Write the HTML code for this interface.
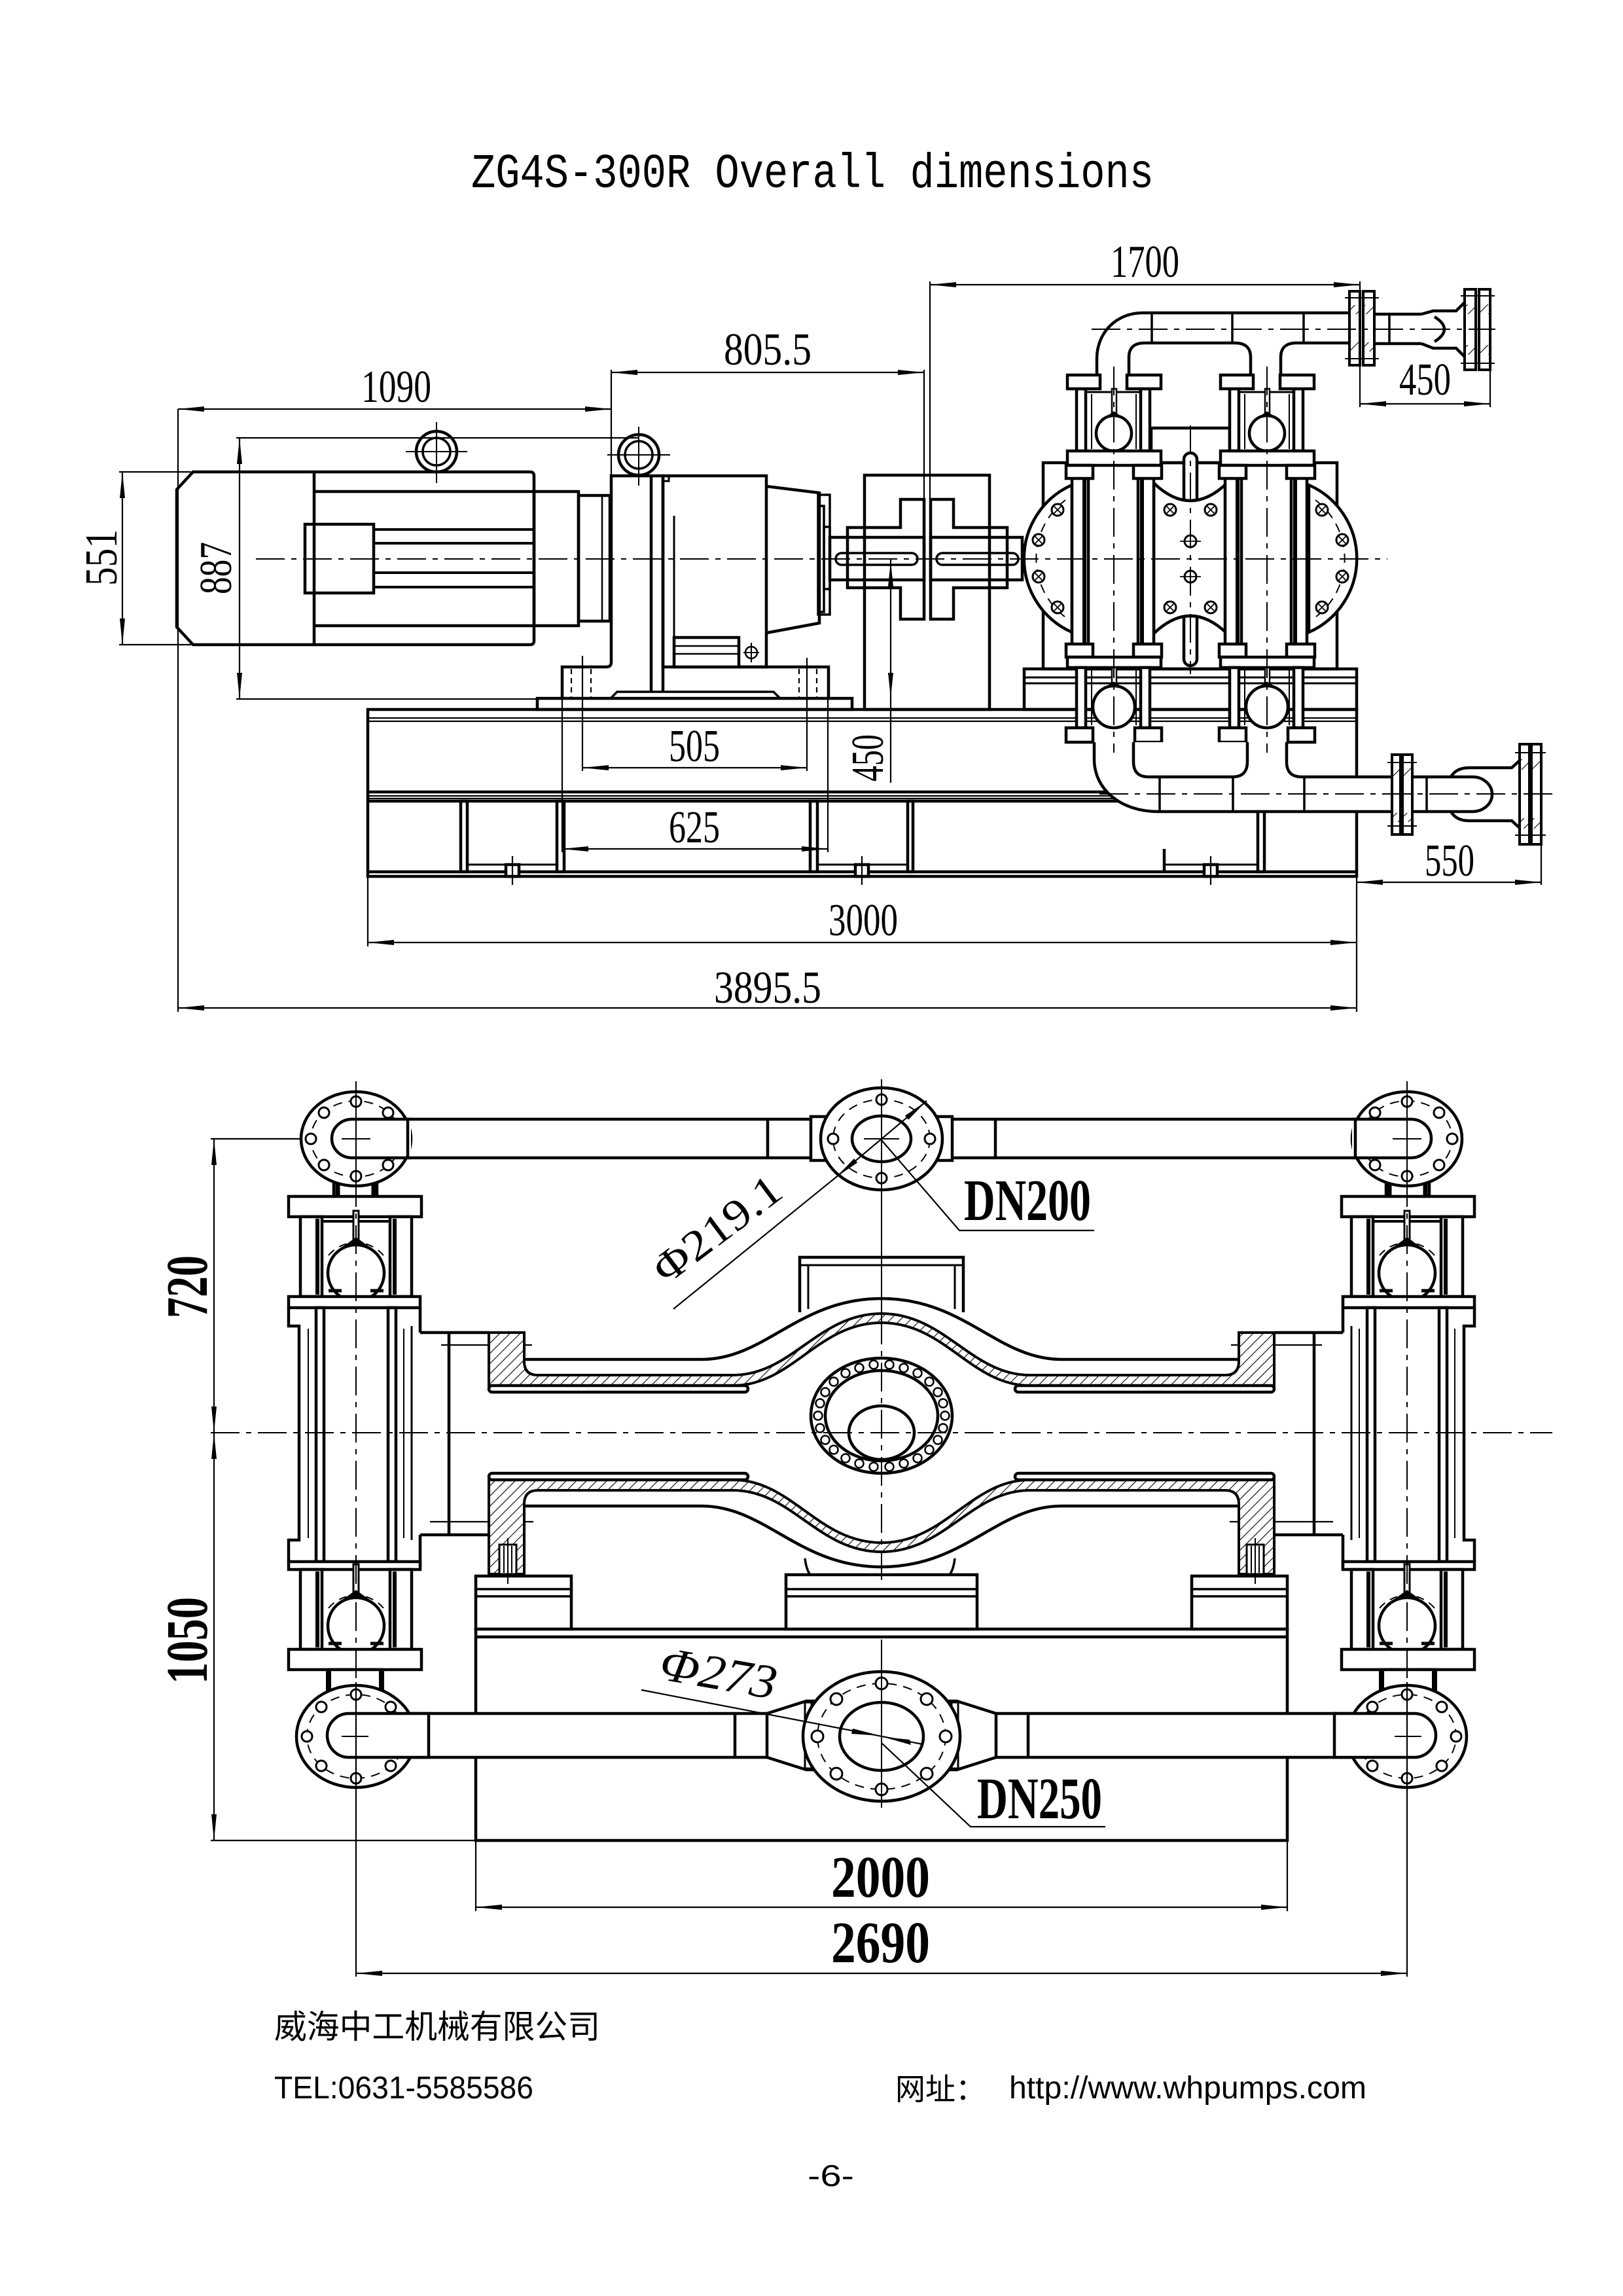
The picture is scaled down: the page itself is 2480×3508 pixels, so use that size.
<!DOCTYPE html>
<html><head><meta charset="utf-8">
<style>
html,body{margin:0;padding:0;background:#fff}
svg{display:block}
</style></head><body>
<svg xmlns="http://www.w3.org/2000/svg" width="2480" height="3508" viewBox="0 0 2480 3508">
<defs>
<marker id="a" markerUnits="userSpaceOnUse" markerWidth="44" markerHeight="14" refX="40" refY="7" orient="auto-start-reverse"><path d="M0,3 L40,7 L0,11 z" fill="#000"/></marker>
<pattern id="h" patternUnits="userSpaceOnUse" width="11" height="11" patternTransform="rotate(45)"><rect width="11" height="11" fill="#fff"/><line x1="0" y1="0" x2="0" y2="11" stroke="#000" stroke-width="2.2"/></pattern>
</defs>
<rect width="2480" height="3508" fill="#fff"/>

<!-- TITLE -->
<text x="720" y="286" font-family="Liberation Mono, monospace" font-size="74" textLength="1043" lengthAdjust="spacingAndGlyphs">ZG4S-300R Overall dimensions</text>

<!-- ================= TOP VIEW ================= -->
<g fill="none" stroke="#000" stroke-width="4.5">
<rect x="562" y="1084" width="1511" height="255"/>
<path d="M562,1210 H2073 M562,1224 H2073 M562,1332 H2073"/>
<rect x="704" y="1224" width="10" height="108"/>
<rect x="851" y="1224" width="11" height="108"/>
<rect x="1238" y="1224" width="11" height="108"/>
<rect x="1387" y="1224" width="8" height="108"/>
<rect x="1922" y="1224" width="10" height="108"/>
<path d="M1779,1297 V1332"/>
<path d="M714,1321 H851 M1249,1321 H1387 M1779,1321 H1922" stroke-width="3"/>
<rect x="773" y="1321" width="20" height="18" fill="#fff"/>
<rect x="1307" y="1321" width="20" height="18" fill="#fff"/>
<rect x="1840" y="1321" width="20" height="18" fill="#fff"/>
</g>
<g fill="none" stroke="#000" stroke-width="2.2">
<path d="M562,1097 H2073 M562,1102 H2073 M562,1216 H2073 M562,1220 H2073"/>
<path d="M783,1308 V1352 M1317,1308 V1352 M1850,1308 V1352"/>
</g>

<g fill="none" stroke="#000" stroke-width="4.5">
<rect x="821" y="1067" width="481" height="17"/>
<path d="M859,1067 V1019 H926 Q934,1019 934,1012"/>
<path d="M1129,1019 H1266 V1067"/>
<path d="M933,1067 L943,1057 H1182 L1192,1067" stroke-width="3.5"/>
<path d="M934,1012 V727 H1013 V1057"/>
<path d="M995,727 V1057"/>
<rect x="1013" y="727" width="158" height="292"/>
<path d="M1013,727 V735 H1022 V727" stroke-width="3"/>
<path d="M1171,743 L1252,753 V952 L1171,967"/>
<rect x="1252" y="773" width="7" height="162" stroke-width="3.5"/>
<rect x="1259" y="805" width="9" height="95" stroke-width="3.5"/>
<path d="M1030,788 V1017" stroke-width="3"/>
<rect x="1030" y="974" width="99" height="45" fill="#fff"/>
<path d="M1030,987 H1129 M1030,999 H1129" stroke-width="2.5"/>
<circle cx="1148" cy="997" r="9" stroke-width="2.5"/>
<path d="M1148,982 V1012 M1136,997 H1160" stroke-width="2"/>
</g>
<g fill="none" stroke="#000" stroke-width="2.2" stroke-dasharray="8 6">
<path d="M873,1022 V1066 M903,1022 V1066 M1221,1022 V1066 M1248,1022 V1066"/>
</g>

<g fill="none" stroke="#000" stroke-width="4.5">
<path d="M295,721 H810 Q816,721 816,727 V979 Q816,985 810,985 H295 L270,958 V748 Z"/>
<path d="M480,721 V985"/>
<path d="M480,751 H816 M480,956 H816"/>
<rect x="816" y="751" width="68" height="205"/>
<rect x="884" y="757" width="48" height="192"/>
<path d="M920,757 V949" stroke-width="2.5"/>
<rect x="466" y="801" width="105" height="105"/>
<path d="M571,809 H816 M571,830 H816 M571,875 H816 M571,897 H816" stroke-width="4"/>
<circle cx="667" cy="690" r="31"/><circle cx="667" cy="690" r="21" stroke-width="3.5"/>
<circle cx="976" cy="695" r="31"/><circle cx="976" cy="695" r="21" stroke-width="3.5"/>
</g>
<g fill="none" stroke="#000" stroke-width="2">
<path d="M620,690 H714 M667,645 V738 M928,695 H1024 M976,652 V742"/>
</g>

<g fill="none" stroke="#000" stroke-width="4.5">
<rect x="1321" y="726" width="191" height="358"/>
<path d="M1295,806 H1376 V763 H1412 V946 H1376 V898 H1295 Z"/>
<path d="M1422,763 H1457 V806 H1539 V898 H1457 V946 H1422 Z"/>
<rect x="1268" y="821" width="144" height="65"/>
<rect x="1422" y="821" width="140" height="65"/>
<rect x="1277" y="845" width="125" height="18" rx="9" stroke-width="3.5"/>
<rect x="1431" y="845" width="125" height="18" rx="9" stroke-width="3.5"/>
<rect x="1250" y="756" width="18" height="183" stroke-width="3.5"/>
</g>

<g fill="none" stroke="#000" stroke-width="4.5">
<rect x="1594" y="707" width="449" height="315"/>
<rect x="1759" y="654" width="120" height="53"/>
<rect x="1565" y="1022" width="508" height="62"/>
<path d="M1565,1035 H2073 M1565,1044 H2073" stroke-width="3"/>
</g>
<g fill="#fff" stroke="#000" stroke-width="4.5">
<rect x="1809" y="692" width="20" height="325" rx="10"/>
<path d="M1763,738 Q1819,792 1875,738 V968 Q1819,914 1763,968 Z"/>
<path d="M1638,741 A123,123 0 0 0 1638,966 Z"/>
<path d="M2000,741 A123,123 0 0 1 2000,966 Z"/>
</g>
<g fill="none" stroke="#000" stroke-width="2" stroke-dasharray="14 10">
<path d="M1628,764 A112,112 0 0 0 1628,943"/>
<path d="M2010,764 A112,112 0 0 1 2010,943"/>
</g>
<g fill="#fff" stroke="#000" stroke-width="3">
<circle cx="1616" cy="779" r="9"/><circle cx="1587" cy="825" r="9"/><circle cx="1587" cy="881" r="9"/><circle cx="1616" cy="928" r="9"/>
<circle cx="2020" cy="779" r="9"/><circle cx="2051" cy="825" r="9"/><circle cx="2051" cy="881" r="9"/><circle cx="2020" cy="928" r="9"/>
<circle cx="1788" cy="779" r="9"/><circle cx="1850" cy="779" r="9"/><circle cx="1819" cy="827" r="9"/><circle cx="1819" cy="881" r="9"/><circle cx="1788" cy="928" r="9"/><circle cx="1850" cy="928" r="9"/>
</g>
<g fill="none" stroke="#000" stroke-width="1.8">
<path d="M1610,773 L1622,785 M1622,773 L1610,785 M1581,819 L1593,831 M1593,819 L1581,831 M1581,875 L1593,887 M1593,875 L1581,887 M1610,922 L1622,934 M1622,922 L1610,934"/>
<path d="M2014,773 L2026,785 M2026,773 L2014,785 M2045,819 L2057,831 M2057,819 L2045,831 M2045,875 L2057,887 M2057,875 L2045,887 M2014,922 L2026,934 M2026,922 L2014,934"/>
<path d="M1782,773 L1794,785 M1794,773 L1782,785 M1844,773 L1856,785 M1856,773 L1844,785 M1782,922 L1794,934 M1794,922 L1782,934 M1844,922 L1856,934 M1856,922 L1844,934"/>
<path d="M1803,827 H1835 M1803,881 H1835"/>
</g>

<g id="col" fill="#fff" stroke="#000" stroke-width="4.5">
<rect x="1645" y="594" width="14" height="95"/>
<rect x="1743" y="594" width="14" height="95"/>
<path d="M1659,599 H1743" fill="none" stroke-width="3"/>
<path d="M1668,602 V686 M1736,602 V686" fill="none" stroke-width="2"/>
<rect x="1699" y="594" width="7" height="42" stroke-width="2.5"/>
<path d="M1688,641 L1702,631 L1716,641 Z" fill="#000"/>
<circle cx="1702" cy="662" r="27"/>
<rect x="1631" y="689" width="143" height="22"/>
<rect x="1638" y="711" width="25" height="293"/>
<rect x="1739" y="711" width="24" height="293"/>
<path d="M1657,715 V1000 M1745,715 V1000" fill="none" stroke-width="6"/>
<rect x="1629" y="711" width="41" height="20"/>
<rect x="1732" y="711" width="43" height="20"/>
<rect x="1629" y="984" width="41" height="20"/>
<rect x="1732" y="984" width="43" height="20"/>
<rect x="1631" y="1004" width="143" height="16"/>
<rect x="1645" y="1020" width="14" height="92"/>
<rect x="1743" y="1020" width="14" height="92"/>
<path d="M1668,1024 V1108 M1736,1024 V1108" fill="none" stroke-width="2"/>
<rect x="1699" y="1020" width="7" height="26" stroke-width="2.5"/>
<path d="M1686,1054 L1702,1044 L1718,1054 Z" fill="#000"/>
<circle cx="1702" cy="1080" r="32"/>
<rect x="1629" y="1112" width="41" height="22"/>
<rect x="1734" y="1112" width="41" height="22"/>
</g>
<use href="#col" transform="translate(234,0)"/>

<g fill="none" stroke="#000" stroke-width="4.5">
<path d="M1676,573 V548 C1676,508 1706,478 1746,478 H2062"/>
<path d="M1725,573 V546 Q1725,524 1749,524 H1887 Q1911,524 1911,546 V573"/>
<path d="M1957,573 V546 Q1957,524 1981,524 H2062"/>
<path d="M1760,478 V524 M1883,478 V524 M1992,478 V524" stroke-width="3.5"/>
<rect x="1631" y="573" width="50" height="21" fill="#fff"/>
<rect x="1722" y="573" width="52" height="21" fill="#fff"/>
<rect x="1865" y="573" width="50" height="21" fill="#fff"/>
<rect x="1956" y="573" width="52" height="21" fill="#fff"/>
<path d="M2100,480 H2172 M2100,525 H2172"/>
<path d="M2123,480 V525" stroke-width="3.5"/>
<path d="M2172,480 L2190,475 H2225 L2238,462 M2172,525 L2190,532 H2225 L2238,545"/>
<path d="M2192,484 Q2222,503 2192,522"/>
</g>
<g stroke="#000" stroke-width="4">
<rect x="2062" y="445" width="16" height="113" fill="#fff"/>
<rect x="2083" y="445" width="17" height="113" fill="#fff"/>
<rect x="2238" y="442" width="17" height="123" fill="#fff"/>
<rect x="2260" y="442" width="17" height="123" fill="#fff"/>
<rect x="2064" y="466" width="12" height="14" fill="url(#h)" stroke="none"/>
<rect x="2085" y="466" width="13" height="14" fill="url(#h)" stroke="none"/>
<rect x="2064" y="523" width="12" height="14" fill="url(#h)" stroke="none"/>
<rect x="2085" y="523" width="13" height="14" fill="url(#h)" stroke="none"/>
<rect x="2240" y="465" width="13" height="15" fill="url(#h)" stroke="none"/>
<rect x="2262" y="465" width="13" height="15" fill="url(#h)" stroke="none"/>
<rect x="2240" y="527" width="13" height="15" fill="url(#h)" stroke="none"/>
<rect x="2262" y="527" width="13" height="15" fill="url(#h)" stroke="none"/>
</g>
<g fill="none" stroke="#000" stroke-width="2">
<path d="M2055,455 H2107 M2055,548 H2107 M2232,452 H2284 M2232,555 H2284"/>
</g>

<path d="M1672,1134 V1160 C1672,1206 1712,1240 1770,1240 H2129 V1187 H1966 V1134 Z" fill="#fff"/>
<g fill="none" stroke="#000" stroke-width="4.5">
<path d="M1672,1134 V1160 C1672,1206 1712,1240 1770,1240 H2129"/>
<path d="M1732,1134 V1164 Q1732,1187 1755,1187 H1883 Q1906,1187 1906,1164 V1134"/>
<path d="M1966,1134 V1164 Q1966,1187 1989,1187 H2129"/>
<path d="M1772,1187 V1240 M1884,1187 V1240 M1993,1187 V1240" stroke-width="3.5"/>
<path d="M2158,1187 H2250 M2158,1240 H2250"/>
<path d="M2180,1187 V1240" stroke-width="3.5"/>
<path d="M2250,1187 A30,26.5 0 0 1 2250,1240"/>
<path d="M2217,1187 Q2225,1173 2245,1173 H2310 L2322,1162 M2217,1240 Q2225,1254 2245,1254 H2310 L2322,1265"/>
</g>
<g stroke="#000" stroke-width="4">
<rect x="2127" y="1153" width="13" height="122" fill="#fff"/>
<rect x="2143" y="1153" width="15" height="122" fill="#fff"/>
<rect x="2322" y="1137" width="15" height="153" fill="#fff"/>
<rect x="2340" y="1137" width="15" height="153" fill="#fff"/>
<rect x="2129" y="1172" width="9" height="14" fill="url(#h)" stroke="none"/>
<rect x="2145" y="1172" width="11" height="14" fill="url(#h)" stroke="none"/>
<rect x="2129" y="1242" width="9" height="14" fill="url(#h)" stroke="none"/>
<rect x="2145" y="1242" width="11" height="14" fill="url(#h)" stroke="none"/>
<rect x="2324" y="1160" width="11" height="16" fill="url(#h)" stroke="none"/>
<rect x="2342" y="1160" width="11" height="16" fill="url(#h)" stroke="none"/>
<rect x="2324" y="1250" width="11" height="16" fill="url(#h)" stroke="none"/>
<rect x="2342" y="1250" width="11" height="16" fill="url(#h)" stroke="none"/>
</g>
<g fill="none" stroke="#000" stroke-width="2">
<path d="M2120,1165 H2165 M2120,1262 H2165 M2315,1150 H2362 M2315,1276 H2362"/>
</g>

<g fill="none" stroke="#000" stroke-width="2" stroke-dasharray="44 10 8 10">
<path d="M391,854 H2120"/>
<path d="M1668,503 H2285"/>
<path d="M1680,1213 H2375"/>
<path d="M1702,560 V1150 M1936,560 V1150 M1819,650 V1030"/>
</g>

<g fill="none" stroke="#000" stroke-width="2.2">
<path d="M272,625 V1546"/>
<path d="M934,565 V727"/>
<path d="M1412,565 V763"/>
<path d="M1421,430 V763"/>
<path d="M2078,430 V622"/>
<path d="M2277,565 V622"/>
<path d="M361,669 H976"/>
<path d="M361,1068 H821"/>
<path d="M182,721 H292 M182,985 H292"/>
<path d="M890,1002 V1178 M1233,1005 V1178"/>
<path d="M859,1018 V1302 M1265,1018 V1302"/>
<path d="M562,1339 V1446 M2073,1339 V1546"/>
<path d="M2355,1290 V1352"/>
<path d="M1361,854 V1196"/>
<line x1="272" y1="625" x2="934" y2="625" marker-start="url(#a)" marker-end="url(#a)"/>
<line x1="934" y1="569" x2="1412" y2="569" marker-start="url(#a)" marker-end="url(#a)"/>
<line x1="1421" y1="435" x2="2078" y2="435" marker-start="url(#a)" marker-end="url(#a)"/>
<line x1="2078" y1="617" x2="2277" y2="617" marker-start="url(#a)" marker-end="url(#a)"/>
<line x1="366" y1="669" x2="366" y2="1068" marker-start="url(#a)" marker-end="url(#a)"/>
<line x1="187" y1="721" x2="187" y2="985" marker-start="url(#a)" marker-end="url(#a)"/>
<line x1="890" y1="1173" x2="1233" y2="1173" marker-start="url(#a)" marker-end="url(#a)"/>
<line x1="859" y1="1297" x2="1265" y2="1297" marker-start="url(#a)" marker-end="url(#a)"/>
<line x1="562" y1="1440" x2="2073" y2="1440" marker-start="url(#a)" marker-end="url(#a)"/>
<line x1="272" y1="1540" x2="2073" y2="1540" marker-start="url(#a)" marker-end="url(#a)"/>
<line x1="2073" y1="1348" x2="2355" y2="1348" marker-start="url(#a)" marker-end="url(#a)"/>
</g>
<path d="M1361,858 L1357,896 H1365 Z M1361,1066 L1357,1028 H1365 Z" fill="#000"/>

<g font-family="Liberation Serif, serif" font-size="70" fill="#000">
<text x="552" y="614" textLength="107" lengthAdjust="spacingAndGlyphs">1090</text>
<text x="1106" y="557" textLength="134" lengthAdjust="spacingAndGlyphs">805.5</text>
<text x="1697" y="423" textLength="105" lengthAdjust="spacingAndGlyphs">1700</text>
<text x="2138" y="603" textLength="79" lengthAdjust="spacingAndGlyphs">450</text>
<text x="1022" y="1163" textLength="78" lengthAdjust="spacingAndGlyphs">505</text>
<text x="1022" y="1287" textLength="78" lengthAdjust="spacingAndGlyphs">625</text>
<text x="1266" y="1429" textLength="106" lengthAdjust="spacingAndGlyphs">3000</text>
<text x="1091" y="1532" textLength="164" lengthAdjust="spacingAndGlyphs">3895.5</text>
<text x="2177" y="1338" textLength="76" lengthAdjust="spacingAndGlyphs">550</text>
<text transform="translate(178,895) rotate(-90)" textLength="86" lengthAdjust="spacingAndGlyphs">551</text>
<text transform="translate(353,908) rotate(-90)" textLength="80" lengthAdjust="spacingAndGlyphs">887</text>
<text transform="translate(1349,1194) rotate(-90)" textLength="72" lengthAdjust="spacingAndGlyphs">450</text>
</g>

<!-- ================= BOTTOM VIEW ================= -->
<g fill="none" stroke="#000" stroke-width="4.5">
<rect x="727" y="2489" width="1240" height="323"/>
<path d="M727,2501 H1967"/>
<rect x="1201" y="2406" width="292" height="83" fill="#fff"/>
<path d="M1201,2428 H1493 M1201,2439 H1493" stroke-width="3.5"/>
<path d="M1230,2381 Q1232,2398 1238,2406 M1459,2381 Q1457,2398 1451,2406" stroke-width="3.5"/>
<path d="M1222,2005 V1921 H1472 V2005"/>
<path d="M1222,1933 H1472 M1235,1933 V2000 M1459,1933 V2000" stroke-width="3"/>
</g>

<g id="L1">
<g fill="none" stroke="#000" stroke-width="4.5">
<path d="M642,2036 H747 M686,2036 V2345 M642,2345 H747 M642,1998 V2036 M642,2345 V2398"/>
<rect x="727" y="2408" width="146" height="81" fill="#fff"/>
<path d="M727,2428 H873 M727,2439 H873" stroke-width="3.5"/>
</g>
<g fill="none" stroke="#000" stroke-width="2.2">
<path d="M674,2055 H813 M657,2325 H815"/>
</g>
<g fill="#fff" stroke="#000" stroke-width="4.5">
<rect x="510" y="1806" width="66" height="24"/>
<path d="M516,1806 V1830 M571,1806 V1830" stroke-width="7" fill="none"/>
<rect x="441" y="1828" width="203" height="31"/>
<rect x="459" y="1859" width="33" height="122"/>
<rect x="596" y="1859" width="33" height="122"/>
<path d="M485,1862 V1978 M603,1862 V1978" stroke-width="6" fill="none"/>
<path d="M492,1866 H596" fill="none" stroke-width="4"/>
<rect x="540" y="1850" width="8" height="46" stroke-width="3"/>
<path d="M522,1909 L544,1893 L566,1909 Z" fill="#000"/>
<circle cx="544" cy="1945" r="43"/>
<path d="M502,1972 H522 M566,1972 H586" fill="none" stroke-width="5"/>
<rect x="441" y="1981" width="201" height="17"/>
<path d="M441,1998 V2026 H457 V2353 H441 V2386" fill="none"/>
<rect x="483" y="1998" width="12" height="388"/>
<rect x="593" y="1998" width="12" height="388"/>
<path d="M629,2026 V2353" fill="none" stroke-width="3"/>
<path d="M471,2030 V2350 M617,2030 V2350" fill="none" stroke-width="2"/>
<rect x="441" y="2386" width="201" height="12"/>
<rect x="459" y="2398" width="33" height="122"/>
<rect x="596" y="2398" width="33" height="122"/>
<path d="M485,2401 V2517 M603,2401 V2517" stroke-width="6" fill="none"/>
<rect x="540" y="2390" width="8" height="45" stroke-width="3"/>
<path d="M522,2448 L544,2432 L566,2448 Z" fill="#000"/>
<circle cx="544" cy="2484" r="43"/>
<path d="M502,2511 H522 M566,2511 H586" fill="none" stroke-width="5"/>
<rect x="441" y="2520" width="203" height="31"/>
<rect x="502" y="2551" width="81" height="34"/>
<path d="M502,2551 V2585 M583,2551 V2585" stroke-width="8" fill="none"/>
</g>
<g fill="none" stroke="#000" stroke-width="2" stroke-dasharray="12 9">
<path d="M502,1918 A55,55 0 0 1 586,1918"/>
<path d="M502,2457 A55,55 0 0 1 586,2457"/>
</g>
<path d="M544,1800 V2620" fill="none" stroke="#000" stroke-width="2" stroke-dasharray="44 10 8 10"/>
</g>
<use href="#L1" transform="matrix(-1,0,0,1,2694,0)"/>

<g stroke="#000" stroke-width="4">
<path fill="url(#h)" d="M747,2036 H801 V2080 Q801,2101 822,2101 H1120 C1210,2101 1250,2007 1347,2007 C1444,2007 1484,2101 1574,2101 H1872 Q1893,2101 1893,2080 V2036 H1947 V2117 H1574 C1484,2117 1444,2021 1347,2021 C1250,2021 1210,2117 1120,2117 H747 Z"/>
<path fill="url(#h)" d="M747,2405 H801 V2298 Q801,2277 822,2277 H1120 C1210,2277 1250,2371 1347,2371 C1444,2371 1484,2277 1574,2277 H1872 Q1893,2277 1893,2298 V2405 H1947 V2261 H1574 C1484,2261 1444,2357 1347,2357 C1250,2357 1210,2261 1120,2261 H747 Z"/>
</g>
<g fill="none" stroke="#000" stroke-width="4.5">
<path d="M801,2077 H1072 C1170,2077 1220,1984 1347,1984 C1474,1984 1524,2077 1622,2077 H1893"/>
<path d="M801,2301 H1072 C1170,2301 1220,2394 1347,2394 C1474,2394 1524,2301 1622,2301 H1893"/>
<rect x="747" y="2117" width="396" height="10" rx="5" fill="#fff"/>
<rect x="1551" y="2117" width="396" height="10" rx="5" fill="#fff"/>
<rect x="747" y="2251" width="396" height="10" rx="5" fill="#fff"/>
<rect x="1551" y="2251" width="396" height="10" rx="5" fill="#fff"/>
</g>
<g fill="#fff" stroke="#000" stroke-width="3">
<rect x="763" y="2360" width="26" height="45"/>
<rect x="1905" y="2360" width="26" height="45"/>
</g>
<g fill="none" stroke="#000" stroke-width="2">
<path d="M770,2362 V2403 M782,2362 V2403 M776,2350 V2420 M1912,2362 V2403 M1924,2362 V2403 M1918,2350 V2420"/>
</g>

<g fill="#fff" stroke="#000" stroke-width="4.5">
<ellipse cx="1347" cy="2163" rx="108" ry="88"/>
<ellipse cx="1347" cy="2163" rx="86" ry="69"/>
<ellipse cx="1347" cy="2189" rx="50" ry="41"/>
</g>
<g fill="#fff" stroke="#000" stroke-width="2.5">
<circle cx="1444" cy="2163" r="6.5"/><circle cx="1441" cy="2182" r="6.5"/><circle cx="1433" cy="2200" r="6.5"/><circle cx="1420" cy="2215" r="6.5"/><circle cx="1402" cy="2228" r="6.5"/><circle cx="1381" cy="2236" r="6.5"/><circle cx="1359" cy="2241" r="6.5"/><circle cx="1335" cy="2241" r="6.5"/><circle cx="1313" cy="2236" r="6.5"/><circle cx="1292" cy="2228" r="6.5"/><circle cx="1274" cy="2215" r="6.5"/><circle cx="1261" cy="2200" r="6.5"/><circle cx="1253" cy="2182" r="6.5"/><circle cx="1250" cy="2163" r="6.5"/><circle cx="1253" cy="2144" r="6.5"/><circle cx="1261" cy="2127" r="6.5"/><circle cx="1274" cy="2111" r="6.5"/><circle cx="1292" cy="2098" r="6.5"/><circle cx="1313" cy="2090" r="6.5"/><circle cx="1335" cy="2085" r="6.5"/><circle cx="1359" cy="2085" r="6.5"/><circle cx="1381" cy="2090" r="6.5"/><circle cx="1402" cy="2098" r="6.5"/><circle cx="1420" cy="2111" r="6.5"/><circle cx="1433" cy="2127" r="6.5"/><circle cx="1441" cy="2144" r="6.5"/>
</g>

<g fill="#fff" stroke="#000" stroke-width="4.5">
<rect x="623" y="1710" width="1448" height="59"/>
<rect x="1239" y="1706" width="23" height="67"/>
<rect x="1432" y="1706" width="23" height="67"/>
<rect x="630" y="2618" width="1434" height="67"/>
<path d="M1172,2618 L1232,2599 H1462 L1522,2618 V2685 L1462,2704 H1232 L1172,2685 Z"/>
<rect x="1230" y="2601" width="10" height="101" stroke-width="3"/>
<rect x="1454" y="2601" width="10" height="101" stroke-width="3"/>
</g>
<g fill="none" stroke="#000" stroke-width="4.5">
<path d="M1173,1710 V1769 M1521,1710 V1769 M1123,2618 V2685 M1571,2618 V2685"/>
</g>

<g id="L2">
<g fill="#fff" stroke="#000" stroke-width="4.5">
<ellipse cx="544" cy="1740" rx="84" ry="72"/>
<ellipse cx="544" cy="2653" rx="91" ry="78"/>
</g>
<g fill="none" stroke="#000" stroke-width="2" stroke-dasharray="14 10">
<ellipse cx="544" cy="1740" rx="69" ry="58"/>
<ellipse cx="544" cy="2653" rx="75" ry="64"/>
</g>
<g fill="#fff" stroke="#000" stroke-width="3">
<circle cx="544" cy="1683" r="8"/><circle cx="495" cy="1700" r="8"/><circle cx="593" cy="1700" r="8"/><circle cx="475" cy="1740" r="8"/><circle cx="495" cy="1780" r="8"/><circle cx="593" cy="1780" r="8"/><circle cx="544" cy="1797" r="8"/>
<circle cx="544" cy="2589" r="8"/><circle cx="491" cy="2608" r="8"/><circle cx="597" cy="2608" r="8"/><circle cx="469" cy="2653" r="8"/><circle cx="491" cy="2698" r="8"/><circle cx="597" cy="2698" r="8"/><circle cx="544" cy="2717" r="8"/>
</g>
<g fill="#fff" stroke="#000" stroke-width="4.5">
<path d="M628,1710 H538 A31,29.5 0 0 0 538,1769 H628"/>
<path d="M658,2618 H533 A33,33.5 0 0 0 533,2685 H658"/>
<path d="M623,1710 V1769 M655,2618 V2685" fill="none"/>
</g>
<g fill="none" stroke="#000" stroke-width="2">
<path d="M544,1652 V1828 M522,1740 H566 M522,2653 H563"/>
</g>
</g>
<use href="#L2" transform="matrix(-1,0,0,1,2694,0)"/>

<g fill="#fff" stroke="#000" stroke-width="4.5">
<ellipse cx="1347" cy="1740" rx="93" ry="78"/>
<ellipse cx="1347" cy="2653" rx="120" ry="99"/>
</g>
<g fill="none" stroke="#000" stroke-width="2" stroke-dasharray="14 10">
<ellipse cx="1347" cy="1740" rx="74" ry="60"/>
<ellipse cx="1347" cy="2653" rx="98" ry="81"/>
</g>
<g fill="none" stroke="#000" stroke-width="4.5">
<ellipse cx="1347" cy="1740" rx="45" ry="35"/>
<ellipse cx="1347" cy="2653" rx="64" ry="52"/>
</g>
<g fill="#fff" stroke="#000" stroke-width="3">
<circle cx="1347" cy="1680" r="8"/><circle cx="1273" cy="1740" r="8"/><circle cx="1421" cy="1740" r="8"/><circle cx="1347" cy="1800" r="8"/>
<circle cx="1445" cy="2653" r="9"/><circle cx="1416" cy="2710" r="9"/><circle cx="1347" cy="2734" r="9"/><circle cx="1278" cy="2710" r="9"/><circle cx="1249" cy="2653" r="9"/><circle cx="1278" cy="2596" r="9"/><circle cx="1347" cy="2572" r="9"/><circle cx="1416" cy="2596" r="9"/>
</g>

<g fill="none" stroke="#000" stroke-width="2">
<path d="M1347,1649 V2010 M1320,1740 H1374"/>
<path d="M1347,2505 V2762"/>
<path d="M1347,2010 V2420 M322,2189 H2372" stroke-dasharray="44 10 8 10"/>
</g>

<g fill="none" stroke="#000" stroke-width="2.2">
<path d="M1029,2000 L1277,1799"/>
<line x1="1277" y1="1799" x2="1416" y2="1682" marker-start="url(#a)" marker-end="url(#a)"/>
<path d="M1347,1742 L1466,1880 H1672"/>
<path d="M980,2582 L1410,2665"/>
<path d="M1347,2663 L1483,2791 H1689"/>
</g>
<path d="M1345,2652 L1303,2641 L1301,2649 Z M1350,2654 L1392,2666 L1390,2658 Z" fill="#000"/>

<g fill="none" stroke="#000" stroke-width="2.2">
<path d="M322,1740 H460"/>
<path d="M322,2812 H727"/>
<path d="M727,2812 V2920 M1967,2812 V2920"/>
<path d="M544,2570 V3020 M2150,2570 V3020"/>
<line x1="327" y1="1740" x2="327" y2="2189" marker-start="url(#a)" marker-end="url(#a)"/>
<line x1="327" y1="2189" x2="327" y2="2812" marker-start="url(#a)" marker-end="url(#a)"/>
<line x1="727" y1="2914" x2="1967" y2="2914" marker-start="url(#a)" marker-end="url(#a)"/>
<line x1="544" y1="3015" x2="2150" y2="3015" marker-start="url(#a)" marker-end="url(#a)"/>
</g>

<g font-family="Liberation Serif, serif" font-weight="bold" font-size="90" fill="#000">
<text x="1473" y="1864" textLength="194" lengthAdjust="spacingAndGlyphs">DN200</text>
<text x="1493" y="2778" textLength="191" lengthAdjust="spacingAndGlyphs">DN250</text>
<text x="1270" y="2898" textLength="151" lengthAdjust="spacingAndGlyphs">2000</text>
<text x="1270" y="2998" textLength="151" lengthAdjust="spacingAndGlyphs">2690</text>
<text transform="translate(316,2014) rotate(-90)" textLength="96" lengthAdjust="spacingAndGlyphs">720</text>
<text transform="translate(316,2573) rotate(-90)" textLength="133" lengthAdjust="spacingAndGlyphs">1050</text>
</g>
<g font-family="Liberation Serif, serif" font-size="66" fill="#000">
<text transform="translate(1018,1964) rotate(-37)" textLength="228" lengthAdjust="spacingAndGlyphs">Φ219.1</text>
<text transform="translate(1005,2565) rotate(10)" font-style="italic" font-size="74" textLength="180" lengthAdjust="spacingAndGlyphs">Φ273</text>
</g>

<!-- FOOTER -->
<text x="419" y="3114" font-family="Liberation Sans, Noto Sans CJK SC, sans-serif" font-size="50" textLength="498" lengthAdjust="spacingAndGlyphs">威海中工机械有限公司</text>
<text x="419" y="3206" font-family="Liberation Sans, sans-serif" font-size="48" textLength="396" lengthAdjust="spacingAndGlyphs">TEL:0631-5585586</text>
<text x="1368" y="3208" font-family="Liberation Sans, Noto Sans CJK SC, sans-serif" font-size="46">网址：</text>
<text x="1542" y="3206" font-family="Liberation Sans, sans-serif" font-size="48" textLength="546" lengthAdjust="spacingAndGlyphs">http://www.whpumps.com</text>
<text x="1234" y="3340" font-family="Liberation Sans, sans-serif" font-size="46" textLength="71" lengthAdjust="spacingAndGlyphs">-6-</text>
</svg>
</body></html>
